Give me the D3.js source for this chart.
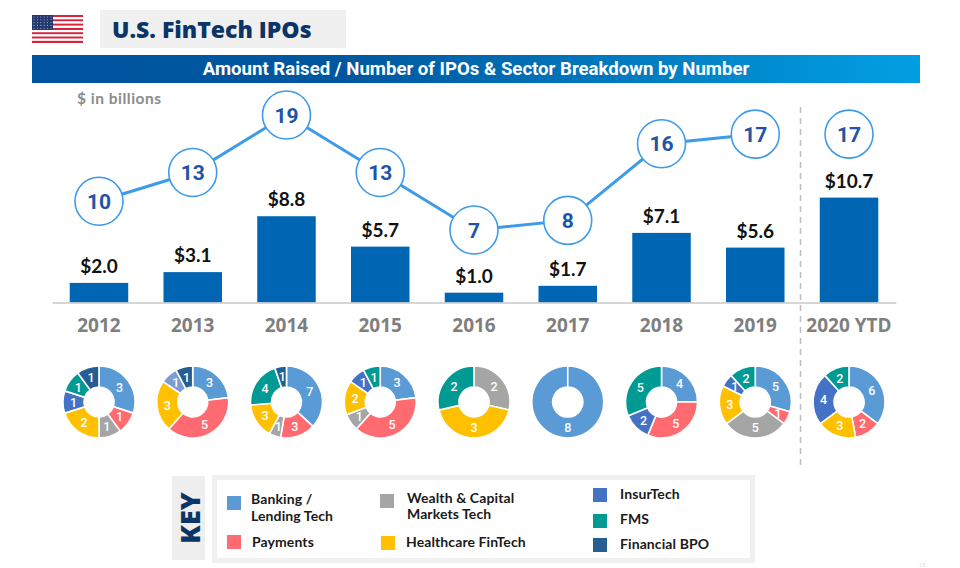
<!DOCTYPE html>
<html>
<head>
<meta charset="utf-8">
<script src="https://cdn.jsdelivr.net/npm/d3@7"></script>
<style>
html, body { margin: 0; padding: 0; background: #fff; overflow: hidden; }
svg { display: block; }
.axis path { stroke: #c8c8c8; stroke-width: 1.5px; }
.axis text { font-family: "Open Sans"; font-weight: 700; font-size: 19px; fill: #7f7f7f; }
</style>
</head>
<body>
<div id="chart-area"></div>
<script>
// data
var years = ["2012", "2013", "2014", "2015", "2016", "2017", "2018", "2019", "2020 YTD"];
var amountRaised = [2.0, 3.1, 8.8, 5.7, 1.0, 1.7, 7.1, 5.6, 10.7];
var ipoCount = [10, 13, 19, 13, 7, 8, 16, 17, 17];

var sectors = ["Banking / Lending Tech", "Payments", "Wealth & Capital Markets Tech", "Healthcare FinTech", "InsurTech", "FMS", "Financial BPO"];
var banking = [3, 3, 7, 3, 0, 8, 4, 5, 6];
var payments = [1, 5, 3, 5, 0, 0, 5, 1, 2];
var wealth = [1, 0, 1, 1, 2, 0, 0, 5, 0];
var healthcare = [2, 3, 3, 2, 3, 0, 0, 3, 3];
var insurtech = [1, 1, 0, 1, 0, 0, 2, 1, 4];
var fms = [1, 0, 4, 1, 2, 0, 5, 2, 2];
var bpo = [1, 1, 1, 0, 0, 0, 0, 0, 0];
var sectorValues = [banking, payments, wealth, healthcare, insurtech, fms, bpo];

var sectorColors = ["#5b9bd5", "#ff6b70", "#a5a5a5", "#ffc000", "#4472c4", "#009a94", "#255e91"];

// key layout, one entry per sector: swatch x,y then the text lines
var keyRows = [
  {x: 227, y: 496, tx: 251, ty: [504, 521], lines: ["Banking /", "Lending Tech"]},
  {x: 227, y: 535, tx: 252, ty: [547], lines: ["Payments"]},
  {x: 380, y: 494, tx: 407, ty: [503, 519], lines: ["Wealth & Capital", "Markets Tech"]},
  {x: 381, y: 536, tx: 406, ty: [547], lines: ["Healthcare FinTech"]},
  {x: 593, y: 488, tx: 620, ty: [499], lines: ["InsurTech"]},
  {x: 593, y: 514, tx: 620, ty: [524], lines: ["FMS"]},
  {x: 593, y: 538, tx: 620, ty: [549], lines: ["Financial BPO"]}
];

var svg = d3.select("#chart-area")
  .append("svg")
  .attr("width", 960)
  .attr("height", 568);

// header
var flag = svg.append("g").attr("transform", "translate(32,15)");
d3.range(13).forEach(function(i) {
  flag.append("rect")
    .attr("y", i * 28 / 13)
    .attr("width", 51)
    .attr("height", 28 / 13)
    .attr("fill", i % 2 ? "#fff" : "#d5243c");
});
flag.append("rect").attr("width", 21).attr("height", 15).attr("fill", "#24386e");
d3.range(5).forEach(function(r) {
  d3.range(6).forEach(function(c) {
    flag.append("circle")
      .attr("cx", 2 + c * 3.4)
      .attr("cy", 2 + r * 2.8)
      .attr("r", 0.55)
      .attr("fill", "#aab4d6");
  });
});

svg.append("rect")
  .attr("x", 100).attr("y", 10)
  .attr("width", 246).attr("height", 38)
  .attr("fill", "#f0f0f0");
svg.append("text")
  .attr("x", 112).attr("y", 38)
  .attr("font-family", "Open Sans")
  .attr("font-weight", 800)
  .attr("font-size", 23)
  .attr("fill", "#0a3566")
  .text("U.S. FinTech IPOs");

var grad = svg.append("defs").append("linearGradient").attr("id", "banner");
grad.append("stop").attr("offset", "0%").attr("stop-color", "#00549f");
grad.append("stop").attr("offset", "35%").attr("stop-color", "#00579f");
grad.append("stop").attr("offset", "100%").attr("stop-color", "#029fe2");

svg.append("rect")
  .attr("x", 32).attr("y", 55)
  .attr("width", 888).attr("height", 28)
  .attr("fill", "url(#banner)");
svg.append("text")
  .attr("x", 476).attr("y", 75)
  .attr("text-anchor", "middle")
  .attr("font-family", "Roboto")
  .attr("font-weight", 700)
  .attr("font-size", 18.6)
  .attr("fill", "#fff")
  .text("Amount Raised / Number of IPOs & Sector Breakdown by Number");

svg.append("text")
  .attr("x", 77).attr("y", 104)
  .attr("font-family", "Lato")
  .attr("font-weight", 700)
  .attr("font-size", 15.5)
  .attr("letter-spacing", 0.5)
  .attr("fill", "#8c8c8c")
  .text("$ in billions");

// scales
var baseline = 302.5;
var x = d3.scaleBand()
  .domain(years)
  .range([52.1, 895.9])
  .paddingInner(0.376)
  .paddingOuter(0.188);
var cx = function(i) { return x(years[i]) + x.bandwidth() / 2; };

var yAmount = d3.scaleLinear().domain([0, 10.7]).range([baseline, 197.6]);
var yCount = d3.scaleLinear().domain([7, 19]).range([230, 115]);

// divider behind everything
svg.append("line")
  .attr("x1", 800.5).attr("x2", 800.5)
  .attr("y1", 107).attr("y2", 470)
  .attr("stroke", "#bdbdbd")
  .attr("stroke-width", 1.5)
  .attr("stroke-dasharray", "6,5");

// bars
svg.selectAll(".bar")
  .data(amountRaised)
  .enter().append("rect")
  .attr("class", "bar")
  .attr("x", function(d, i) { return x(years[i]); })
  .attr("y", function(d) { return yAmount(d); })
  .attr("width", x.bandwidth())
  .attr("height", function(d) { return baseline - yAmount(d); })
  .attr("fill", "#0066b3");

svg.selectAll(".bar-label")
  .data(amountRaised)
  .enter().append("text")
  .attr("class", "bar-label")
  .attr("x", function(d, i) { return cx(i); })
  .attr("y", function(d) { return yAmount(d) - 10; })
  .attr("text-anchor", "middle")
  .attr("font-family", "Lato")
  .attr("font-weight", 700)
  .attr("font-size", 19)
  .attr("fill", "#111")
  .text(function(d) { return "$" + d.toFixed(1); });

// x axis
svg.append("g")
  .attr("class", "axis")
  .attr("transform", "translate(0," + baseline + ")")
  .call(d3.axisBottom(x).tickSize(0).tickPadding(16))
  .call(function(g) { g.selectAll(".tick line").remove(); });

// IPO count line, 2020 YTD is not connected
var line = d3.line()
  .x(function(d, i) { return cx(i); })
  .y(function(d) { return yCount(d); });

svg.append("path")
  .attr("d", line(ipoCount.slice(0, 8)))
  .attr("fill", "none")
  .attr("stroke", "#3d9be9")
  .attr("stroke-width", 3);

svg.selectAll(".count-circle")
  .data(ipoCount)
  .enter().append("circle")
  .attr("class", "count-circle")
  .attr("cx", function(d, i) { return cx(i); })
  .attr("cy", function(d) { return yCount(d); })
  .attr("r", 24)
  .attr("fill", "#fff")
  .attr("stroke", "#3d9be9")
  .attr("stroke-width", 1.6);

svg.selectAll(".count-label")
  .data(ipoCount)
  .enter().append("text")
  .attr("class", "count-label")
  .attr("x", function(d, i) { return cx(i); })
  .attr("y", function(d) { return yCount(d) + 7.5; })
  .attr("text-anchor", "middle")
  .attr("font-family", "Roboto")
  .attr("font-weight", 700)
  .attr("font-size", 21)
  .attr("fill", "#1f55a5")
  .text(function(d) { return d; });

// donuts
var pie = d3.pie()
  .sort(null)
  .value(function(d) { return d.value; })
  .endAngle(2 * Math.PI - 0.0001);  // keeps the seam on the single slice donut
var arc = d3.arc().innerRadius(15).outerRadius(36);

years.forEach(function(year, i) {
  var slices = sectorValues
    .map(function(s, k) { return {sector: k, value: s[i]}; })
    .filter(function(d) { return d.value > 0; });

  var donut = svg.append("g")
    .attr("class", "donut")
    .attr("transform", "translate(" + cx(i) + ",402)");

  var parts = donut.selectAll("g")
    .data(pie(slices))
    .enter().append("g");

  parts.append("path")
    .attr("d", arc)
    .attr("fill", function(d) { return sectorColors[d.data.sector]; })
    .attr("fill-opacity", function(d) {
      // the 2013 InsurTech slice is paler in the source
      return (year == "2013" && d.data.sector == 4) ? 0.7 : 1;
    })
    .attr("stroke", "#fff")
    .attr("stroke-width", 1.6);

  parts.append("text")
    .attr("transform", function(d) {
      var c = arc.centroid(d);
      return "translate(" + c[0] + "," + (c[1] + 4.5) + ")";
    })
    .attr("text-anchor", "middle")
    .attr("font-family", "Roboto")
    .attr("font-weight", 500)
    .attr("font-size", 12.5)
    .attr("fill", "#fff")
    .text(function(d) { return d.data.value; });
});

// key
svg.append("rect")
  .attr("x", 172).attr("y", 476)
  .attr("width", 33).attr("height", 84)
  .attr("fill", "#eeeeee");
svg.append("text")
  .attr("transform", "translate(199.5,518) rotate(-90)")
  .attr("text-anchor", "middle")
  .attr("font-family", "Open Sans")
  .attr("font-weight", 800)
  .attr("font-size", 27)
  .attr("fill", "#0a3566")
  .text("KEY");

svg.append("rect")
  .attr("x", 214.5).attr("y", 477.5)
  .attr("width", 538).attr("height", 83)
  .attr("fill", "#fff")
  .attr("stroke", "#f0f0f0")
  .attr("stroke-width", 5);

var keyItem = svg.selectAll(".key-item")
  .data(sectors)
  .enter().append("g")
  .attr("class", "key-item");

keyItem.append("rect")
  .attr("x", function(d, i) { return keyRows[i].x; })
  .attr("y", function(d, i) { return keyRows[i].y; })
  .attr("width", 14)
  .attr("height", 14)
  .attr("fill", function(d, i) { return sectorColors[i]; });

keyRows.forEach(function(row) {
  row.lines.forEach(function(t, j) {
    svg.append("text")
      .attr("x", row.tx)
      .attr("y", row.ty[j])
      .attr("font-family", "Lato")
      .attr("font-weight", 700)
      .attr("font-size", 14)
      .attr("letter-spacing", 0.1)
      .attr("fill", "#1a1a1a")
      .text(t);
  });
});

// page number, barely visible at the bottom edge
svg.append("text")
  .attr("x", 922).attr("y", 567)
  .attr("text-anchor", "middle")
  .attr("font-family", "Roboto")
  .attr("font-size", 6)
  .attr("fill", "#dcdcdc")
  .text("15");
</script>
</body>
</html>
